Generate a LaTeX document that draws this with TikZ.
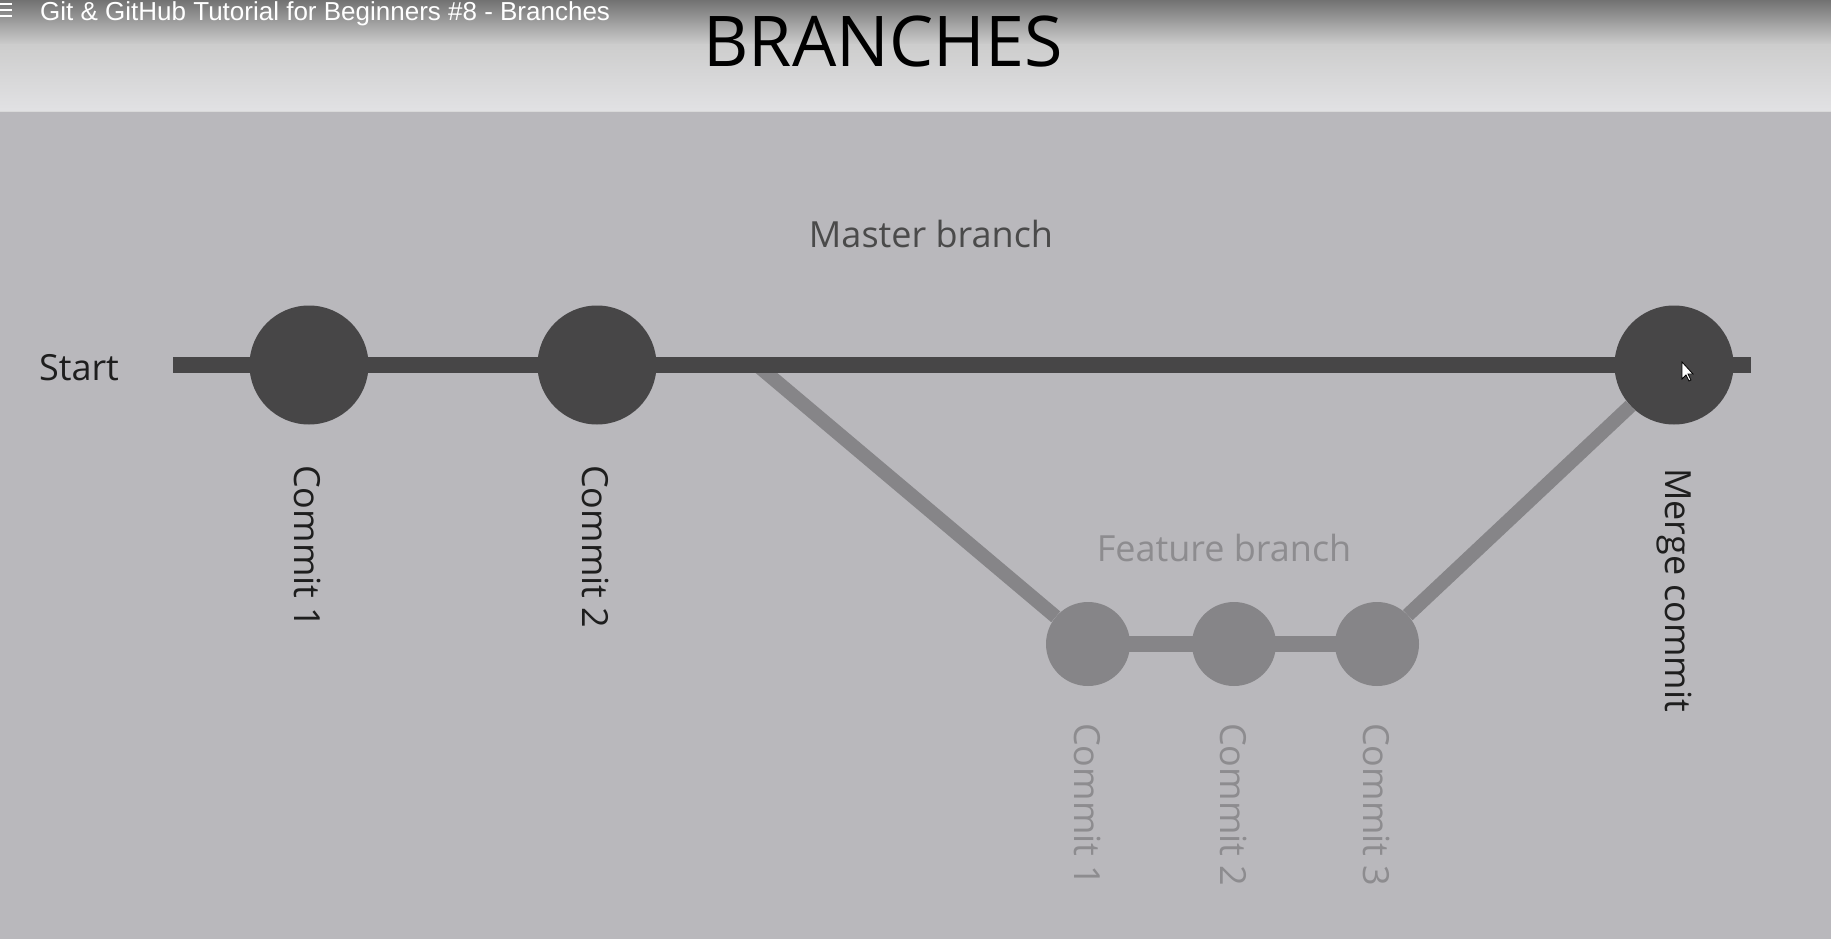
\documentclass[tikz,border=0pt]{standalone}
\usepackage{fontspec}
\setmainfont{Open Sans}
\newfontfamily\ytfont{Liberation Sans}
\definecolor{bodybg}{HTML}{B9B8BC}
\definecolor{hdrtop}{HTML}{727272}
\definecolor{hdrmid}{HTML}{CDCDCD}
\definecolor{hdrbot}{HTML}{E2E2E4}
\definecolor{mastergray}{HTML}{474647}
\definecolor{featgray}{HTML}{868588}
\definecolor{inkdark}{HTML}{1E1E1E}
\definecolor{inkmid}{HTML}{4A4A4A}
\definecolor{inklight}{HTML}{8D8C8F}

\begin{document}
\begin{tikzpicture}
  [x=1pt,y=-1pt,
   master/.style={circle,fill=mastergray,minimum size=119pt,inner sep=0pt},
   feature/.style={circle,fill=featgray,minimum size=84pt,inner sep=0pt},
   tuck/.style={shorten <=-3pt,shorten >=-3pt},
   txt/.style={font=\fontsize{36}{40}\selectfont,inner sep=0pt},
   lbl/.style={txt,rotate=-90,anchor=west}]
  \useasboundingbox (0,0) rectangle (1831,939);
  \fill[bodybg] (0,0) rectangle (1831,939);
  \shade[top color=hdrtop,bottom color=hdrmid] (0,0) rectangle (1831,45);
  \shade[top color=hdrmid,bottom color=hdrbot] (0,45) rectangle (1831,112);
  \draw[white!85!black,line width=1pt] (0,112) -- (1831,112);
  % video title bar
  \foreach \y in {4,10,16}
    \draw[white,line width=2pt] (0,\y) -- (12,\y);
  \node[font=\ytfont\fontsize{26}{28}\selectfont,text=white,anchor=base west,inner sep=0pt]
    (yt) at (40,21) {Git \& GitHub Tutorial for Beginners \#8 - Branches};
  \node[font=\fontsize{70}{74}\selectfont,text=black,anchor=base,inner sep=0pt]
    (title) at (883,67) {BRANCHES};
  % commits
  \coordinate (mstart) at (176,365);
  \coordinate (mend) at (1748,365);
  \coordinate (fork) at (757,365);
  \node[master] (m1) at (309,365) {};
  \node[master] (m2) at (597,365) {};
  \node[master] (mm) at (1674,365) {};
  \node[feature] (f1) at (1088,644) {};
  \node[feature] (f2) at (1234,644) {};
  \node[feature] (f3) at (1377,644) {};
  \foreach \from/\to in {fork/f1,f3/mm}
    \draw[featgray,line width=14pt] (\from) -- (\to);
  \foreach \from/\to in {f1/f2,f2/f3}
    \draw[featgray,line width=16pt,tuck] (\from) -- (\to);
  \foreach \from/\to in {mstart/m1,m1/m2,m2/mm,mm/mend}
    \draw[mastergray,line width=16pt,tuck] (\from) -- (\to);
  % labels
  \node[txt,text=inkdark,anchor=base] (start) at (79,380) {Start};
  \node[txt,text=inkmid,anchor=base] (mlabel) at (931,247) {Master branch};
  \node[txt,text=inklight,anchor=base] (flabel) at (1224,561) {Feature branch};
  \node[lbl,text=inkdark] (c1) at (308,465) {Commit 1};
  \node[lbl,text=inkdark] (c2) at (596,465) {Commit 2};
  \node[lbl,text=inkdark] (cm) at (1674,468) {Merge commit};
  \node[lbl,text=inklight] (fc1) at (1088,723) {Commit 1};
  \node[lbl,text=inklight] (fc2) at (1234,723) {Commit 2};
  \node[lbl,text=inklight] (fc3) at (1377,723) {Commit 3};
  % pointer
  \filldraw[fill=white,draw=black,line width=0.8pt]
    (1682,362) -- ++(0,17) -- ++(4,-4) -- ++(3,6) -- ++(2,-1) -- ++(-3,-6) -- ++(5,0) -- cycle;
\end{tikzpicture}
\end{document}
